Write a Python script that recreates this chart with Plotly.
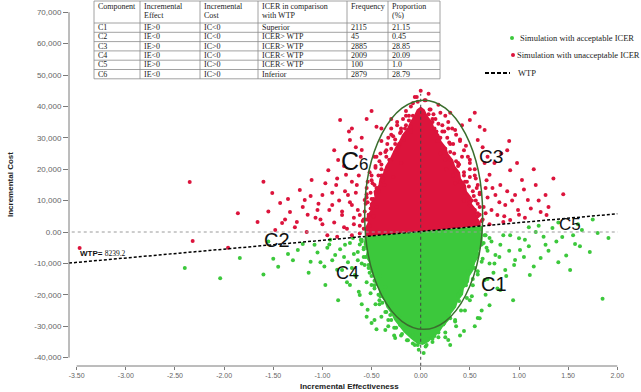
import plotly.graph_objects as go

# ---------------- data ----------------
components = ["C1", "C2", "C3", "C4", "C5", "C6"]
inc_effect = ["IE>0", "IE<0", "IE>0", "IE<0", "IE>0", "IE<0"]
inc_cost = ["IC<0", "IC<0", "IC>0", "IC<0", "IC>0", "IC>0"]
icer_vs_wtp = ["Superior", "ICER> WTP", "ICER> WTP", "ICER< WTP", "ICER< WTP", "Inferior"]
frequency = ["2115", "45", "2885", "2009", "100", "2879"]
proportion = ["21.15", "0.45", "28.85", "20.09", "1.0", "28.79"]

x_tickvals = [-3.5, -3.0, -2.5, -2.0, -1.5, -1.0, -0.5, 0.0, 0.5, 1.0, 1.5, 2.0]
x_ticktext = ["-3.50", "-3.00", "-2.50", "-2.00", "-1.50", "-1.00", "-0.50", "0.00", "0.50", "1.00", "1.50", "2.00"]
y_tickvals = [-40000, -30000, -20000, -10000, 0, 10000, 20000, 30000, 40000, 50000, 60000, 70000]
y_ticktext = ["-40,000", "-30,000", "-20,000", "-10,000", "0.00", "10,000", "20,000", "30,000",
              "40,000", "50,000", "60,000", "70,000"]

# WTP threshold line (as drawn)
wtp_x = [-3.578, 2.0]
wtp_y = [-9900, 5800]

# dense cores of simulations (solid areas)
red_core_x = [-0.56, -0.57, -0.54, -0.55, -0.51, -0.52, -0.47, -0.48, -0.43, -0.42, -0.38, -0.36, -0.32, -0.29,
              -0.26, -0.22, -0.19, -0.14, -0.11, -0.07, -0.04, 0.00, 0.04, 0.07, 0.12, 0.14, 0.19, 0.21, 0.26,
              0.28, 0.33, 0.35, 0.40, 0.41, 0.46, 0.47, 0.52, 0.52, 0.57, 0.57, 0.61, 0.61]
red_core_y = [-1450, 1000, 3000, 5000, 7000, 9000, 11000, 13000, 15000, 17000, 19000, 21000, 23000, 25000,
              27000, 29000, 31000, 33000, 35000, 37000, 39000, 40000, 39000, 37000, 35000, 33000, 31000, 29000,
              27000, 25000, 23000, 21000, 19000, 17000, 15000, 13000, 11000, 9000, 7000, 5000, 3000, 1900]
green_core_x = [-0.57, -0.58, -0.55, -0.56, -0.52, -0.52, -0.48, -0.47, -0.43, -0.42, -0.37, -0.35, -0.30, -0.27,
                -0.22, -0.17, -0.10, -0.04, 0.02, 0.08, 0.13, 0.19, 0.23, 0.29, 0.31, 0.36, 0.38, 0.43, 0.44,
                0.49, 0.50, 0.54, 0.55, 0.59, 0.59, 0.63, 0.63, 0.63]
green_core_y = [-1430, -4000, -6000, -8000, -10000, -12000, -14000, -16000, -18000, -20000, -22000, -24000,
                -26000, -28000, -30000, -32000, -34000, -35500, -36000, -35000, -33500, -32000, -30000, -28000,
                -26000, -24000, -22000, -20000, -18000, -16000, -14000, -12000, -10000, -8000, -6000, -4000,
                -1500, 1940]

# individual simulations with unacceptable ICER (x, cost)
red_points = [
    (-3.47, -5100), (-2.35, 15900), (-2.32, -2900), (-1.96, -5000), (-1.86, 6000), (-1.66, 3200), (-1.51, 12400),
    (-1.48, 600), (-1.43, 9200), (-1.41, 2900), (-1.33, 6400), (-1.26, 3200), (-1.23, 13400), (-1.18, 10200),
    (-1.16, 0), (-1.11, 16600), (-1.05, 7000), (-1.00, 11800), (-0.94, 19700), (-0.90, 8600), (-0.86, 15000),
    (-0.84, 22900), (-0.80, 5400), (-0.76, 18200), (-0.74, 11800), (-0.72, 29300), (-0.70, 8600), (-0.65, 15000),
    (-0.62, 5400), (-0.60, 26100), (-0.57, 10200), (-0.82, 35700), (-0.95, -1000), (-0.78, 1500), (-0.68, 2500),
    (-0.88, 26000), (-1.02, 4000), (-0.73, 32000),
    (-0.62, 2000), (-0.64, 7000), (-0.66, 12500), (-0.63, 18000), (-0.61, 24000), (-0.60, 30000), (-0.68, 4500),
    (-0.70, 16000), (-0.72, 9500), (-0.75, 1000), (-0.77, 13000), (-0.78, 21000), (-0.80, 6500), (-0.83, 10000),
    (-0.85, 17000), (-0.88, 3000), (-0.90, 12500), (-0.93, 7000), (-0.97, 15500), (-1.00, 2500), (-1.04, 9000),
    (-1.07, 4500), (-1.12, 11500), (-1.15, 5500), (-1.20, 8000), (-1.28, 1500), (-1.35, 10500), (-1.38, 4000),
    (-1.55, 6500), (-1.60, 16000), (-0.66, 27000), (-0.70, 33000), (-0.55, 36000), (-0.50, 38500),
    (-0.45, 33500), (-0.62, -500), (-0.70, -1000), (-0.85, -1500),
    (0.50, 35700), (0.58, 29300), (0.65, 32500), (0.70, 18200), (0.76, 11800), (0.81, 15000), (0.86, 8600),
    (0.91, 19700), (0.96, 11800), (0.99, 7000), (1.03, 16600), (1.09, 10200), (1.17, 15000), (1.22, 6400),
    (1.27, 11800), (0.72, 7000), (0.78, 5400), (0.84, 3200), (0.91, 3800), (1.06, 4500), (1.28, 5400),
    (0.68, 24000), (0.88, 26000), (0.75, 22000),
    (0.66, 6000), (0.68, 11000), (0.67, 16500), (0.65, 22000), (0.63, 27000), (0.60, 33500), (0.55, 38000),
    (0.70, 2500), (0.73, 14000), (0.80, 9500), (0.82, 25000), (0.85, 5000), (0.88, 13000), (0.90, 29000),
    (0.93, 10000), (0.98, 22000), (1.00, 5500), (1.05, 13500), (1.12, 7500), (1.15, 20000), (1.20, 10000),
    (1.30, 8000), (1.35, 17000), (1.45, 12000),
    (-0.06, 43000), (0.04, 42000), (0.10, 39000), (-0.10, 40000), (0.00, 45000), (-0.15, 38500), (0.18, 40500),
    (0.30, 38000), (-0.30, 36000), (-0.40, 33000), (0.42, 34000), (0.08, 44000), (-0.03, 41500),
    (-0.12, 37000), (-0.08, 41000), (-0.04, 43000), (0.05, 42000), (0.09, 39000), (0.13, 37500), (-0.18, 36000),
    (0.20, 38000), (-0.30, 33000), (-0.24, 35000), (-0.20, 32000), (-0.15, 34000), (-0.10, 33500), (0.12, 35000),
    (0.16, 32000), (0.22, 34000), (0.28, 33000), (0.35, 32500), (-0.40, 29000), (-0.34, 28000), (-0.28, 30500),
    (-0.22, 27500), (-0.17, 29500), (0.17, 29000), (0.22, 27000), (0.27, 30000), (0.33, 28000), (0.40, 29500),
    (0.46, 27500), (-0.47, 24000), (-0.42, 22500), (-0.36, 25500), (-0.30, 23000), (-0.24, 25000),
    (-0.20, 22000), (0.20, 25000), (0.25, 23000), (0.30, 25500), (0.36, 22500), (0.42, 24000), (0.50, 23000),
    (-0.52, 19000), (-0.46, 20500), (-0.40, 18000), (-0.34, 20000), (-0.28, 17500), (0.26, 20000),
    (0.33, 18000), (0.38, 21000), (0.44, 19000), (0.50, 17500), (0.55, 20000), (-0.55, 14000), (-0.49, 15500),
    (-0.43, 13000), (-0.37, 15000), (0.35, 15500), (0.42, 13500), (0.47, 16000), (0.53, 13000), (0.58, 15000),
    (-0.56, 9000), (-0.50, 10500), (-0.45, 8000), (0.44, 10000), (0.50, 8500), (0.56, 10000), (0.60, 8000),
    (-0.57, 4000), (-0.53, 5500), (0.58, 5000), (0.62, 3500),
    (-0.45, 14000), (-0.40, 20000), (-0.35, 26000), (-0.30, 31000), (-0.52, 2000),
    (-0.48, 5000), (-0.38, 17000), (-0.32, 23000), (-0.26, 28000), (-0.20, 33000),
    (-0.15, 37000), (-0.55, 12000), (-0.50, 18000), (-0.45, 24000), (0.15, 36000), (0.22, 32000),
    (0.30, 28000), (0.38, 22000), (0.45, 16000), (0.52, 10000), (0.58, 6000), (0.60, 12000), (0.55, 18000),
    (0.48, 24000), (0.40, 29000), (0.32, 33000), (0.25, 37000), (0.50, 20000), (0.57, 14000),
    (-0.58, 4000), (-0.54, 16000), (0.64, 8000), (0.66, 14000),
    (-0.08, 37000), (-0.12, 35500), (-0.10, 32000), (-0.16, 33000), (-0.17, 30000), (-0.21, 31500),
    (-0.22, 28000), (-0.26, 29500), (-0.26, 25500), (-0.30, 26500), (-0.31, 22500), (-0.35, 24000),
    (-0.36, 19500), (-0.40, 21500), (-0.39, 16500), (-0.43, 18000), (-0.44, 13500), (-0.47, 15000),
    (-0.48, 10500), (-0.51, 12500), (-0.51, 7500), (-0.54, 9500), (-0.55, 4000), (-0.57, 6500), (-0.58, 1000),
    (-0.24, 34000), (-0.33, 30000), (-0.41, 25000), (-0.46, 21000), (-0.50, 16500), (-0.55, 11000),
    (-0.59, 3500),
    (0.08, 37500), (0.12, 36000), (0.14, 33000), (0.18, 34500), (0.20, 30000), (0.24, 32000), (0.25, 26500),
    (0.29, 28500), (0.30, 23000), (0.34, 25000), (0.35, 19500), (0.39, 21500), (0.40, 16000), (0.44, 18000),
    (0.45, 12500), (0.49, 14500), (0.50, 9500), (0.54, 11500), (0.55, 7000), (0.58, 9000), (0.60, 5500),
    (0.63, 4000), (0.28, 35000), (0.36, 31000), (0.44, 26000), (0.50, 22000), (0.56, 17000), (0.60, 12500),
]

# individual simulations with acceptable ICER (x, cost)
green_points = [
    (-2.40, -11500), (-2.04, -14700), (-1.84, -8300), (-1.45, -11100), (-1.25, -5700), (-1.14, -13000),
    (-1.08, -4100), (-1.02, -9600), (-0.97, -16900), (-0.92, -2500), (-0.87, -7300), (-0.84, -21700),
    (-0.80, -12100), (-0.77, -4100), (-0.74, -9600), (-0.72, -16900), (-0.69, -1900), (-0.67, -13700),
    (-0.64, -6400), (-0.62, -20100), (-0.60, -2500), (-0.57, -10500), (-0.54, -24800), (-0.50, -16900),
    (-0.47, -28000), (-0.42, -21700), (-0.36, -31200), (-0.31, -26400), (-0.26, -33800), (-0.21, -29600),
    (-0.08, -32800), (-0.03, -36000), (0.07, -34100), (0.14, -33100), (-1.55, -3000), (-1.30, -9000),
    (-0.95, -5000),
    (0.70, -1900), (0.76, -7300), (0.81, -4100), (0.86, -12100), (0.91, -1000), (0.96, -8900), (1.01, -5700),
    (1.06, -2500), (1.11, -13700), (1.17, 0), (1.22, -8300), (1.27, -4100), (1.34, 1300), (1.40, -9600),
    (1.44, -1600), (1.52, -12100), (1.57, -3800), (1.64, 600), (1.72, -6400), (1.80, -300), (1.85, -21300),
    (1.91, -1900), (0.94, -21700), (0.81, -18500), (0.70, -23300), (0.65, -15300), (0.58, -27400),
    (0.50, -21700), (0.44, -31500), (0.35, -28000), (0.28, -34400), (0.75, -10000), (0.68, -6000),
    (-0.60, -3000), (-0.58, -5500), (0.64, -3500), (0.66, -1000), (-0.58, -8000), (-0.53, -10500),
    (0.57, -7500), (0.62, -9500), (-0.50, -11000), (0.55, -11500), (-0.52, -13000), (-0.47, -15500),
    (-0.42, -14000), (0.48, -12500), (0.53, -15000), (0.58, -13500), (-0.47, -18000), (-0.41, -20500),
    (-0.36, -17500), (0.40, -19000), (0.46, -17000), (0.52, -20500), (-0.42, -23000), (-0.36, -25500),
    (-0.30, -22500), (0.33, -24000), (0.39, -22000), (0.45, -25000), (-0.33, -28000), (-0.27, -30500),
    (-0.22, -27000), (0.24, -29000), (0.30, -27500), (0.36, -30000), (-0.20, -33000), (-0.14, -34500),
    (-0.08, -35500), (0.05, -36500), (0.12, -35000), (0.18, -33500), (0.25, -32000), (-0.02, -37500),
    (0.03, -38500),
    (-0.62, -4000), (-0.64, -9000), (-0.66, -14000), (-0.63, -19000), (-0.60, -23000), (-0.68, -7000),
    (-0.70, -11500), (-0.72, -3500), (-0.75, -16000), (-0.78, -8000), (-0.82, -5500), (-0.85, -12000),
    (-0.90, -9000), (-0.93, -4000), (-0.98, -11000), (-1.05, -6500), (-1.12, -9500), (-1.20, -3800),
    (-1.35, -7000), (-1.50, -8500), (-1.60, -13500), (-0.55, -27000), (-0.45, -31000), (-0.50, -29000),
    (0.67, -5000), (0.70, -10000), (0.68, -15000), (0.66, -20000), (0.62, -25000), (0.72, -3000),
    (0.74, -13000), (0.78, -18000), (0.80, -8000), (0.84, -1000), (0.87, -14000), (0.90, -6000),
    (0.95, -10500), (1.00, -2000), (1.05, -8000), (1.10, -4500), (1.15, -11000), (1.25, -1500), (1.30, -6000),
    (1.38, -3000), (1.48, -7500), (1.55, -1000), (1.62, -4500), (0.55, -30000), (0.60, -27500), (0.40, -33000),
    (0.30, -36000), (1.20, 2000), (1.40, 3000), (1.60, 2500), (1.75, 4000), (1.10, 1500),
    (-0.58, -5000), (-0.56, -8000), (-0.53, -11500), (-0.50, -14000), (-0.47, -17000), (-0.43, -20000),
    (-0.39, -22500), (-0.35, -25500), (-0.30, -28000), (-0.25, -30500), (-0.19, -32500), (-0.13, -34500),
    (-0.06, -36000), (-0.61, -2500), (-0.60, -10000), (-0.55, -16000), (-0.51, -19500), (-0.46, -23000),
    (-0.40, -27000), (-0.33, -30000), (-0.27, -33000),
    (0.06, -36000), (0.12, -34000), (0.18, -32000), (0.23, -29500), (0.28, -26500), (0.33, -23500),
    (0.38, -20000), (0.43, -16500), (0.48, -13000), (0.53, -10000), (0.58, -7000), (0.62, -4000),
    (0.65, -1000), (0.35, -28500), (0.41, -25000), (0.47, -21000), (0.53, -17000), (0.58, -12500),
    (0.63, -8500), (0.25, -33500),
]

red_x = [p[0] for p in red_points]
red_y = [p[1] for p in red_points]
green_x = [p[0] for p in green_points]
green_y = [p[1] for p in green_points]

# ---------------- styling ----------------
RED = "#dc143c"
GREEN = "#3cc83c"
L, R, T, B = 69, 23, 12, 26
W, H = 641, 392
PW, PH = W - L - R, H - T - B


def px_x(px):
    return (px - L) / PW


def px_y(py):
    return (H - B - py) / PH


def esc(s):
    return s.replace("<", "&lt;").replace(">", "&gt;")


fig = go.Figure()

fig.add_trace(go.Scatter(x=red_core_x, y=red_core_y, fill="toself", fillcolor=RED, mode="lines",
                         line=dict(width=0, color=RED), showlegend=False, hoverinfo="skip"))
fig.add_trace(go.Scatter(x=green_core_x, y=green_core_y, fill="toself", fillcolor=GREEN, mode="lines",
                         line=dict(width=0, color=GREEN), showlegend=False, hoverinfo="skip"))
fig.add_trace(go.Scatter(x=green_x, y=green_y, mode="markers", name="Simulation with acceptable ICER",
                         marker=dict(color=GREEN, size=4), showlegend=False))
fig.add_trace(go.Scatter(x=red_x, y=red_y, mode="markers", name="Simulation with unacceptable ICER",
                         marker=dict(color=RED, size=4), showlegend=False))
fig.add_trace(go.Scatter(x=wtp_x, y=wtp_y, mode="lines", name="WTP",
                         line=dict(color="black", width=1.5, dash="3px,2px"), showlegend=False))

shapes = []
# axis lines
shapes.append(dict(type="line", xref="paper", yref="y", x0=0, x1=0, y0=-40000, y1=70000,
                   line=dict(color="#7a7a7a", width=1)))
shapes.append(dict(type="line", xref="x", yref="paper", x0=-3.5, x1=2.0, y0=0, y1=0,
                   line=dict(color="#7a7a7a", width=1)))
# zero reference lines
shapes.append(dict(type="line", xref="paper", yref="y", x0=0.005, x1=1, y0=0, y1=0,
                   line=dict(color="#9a9a9a", width=1, dash="3px,3px")))
shapes.append(dict(type="line", xref="x", yref="y", x0=0, x1=0, y0=-42600, y1=44000,
                   line=dict(color="#444444", width=1, dash="3px,3px")))
# confidence ellipse
shapes.append(dict(type="circle", xref="x", yref="y", x0=-0.57, x1=0.63, y0=-31000, y1=42000,
                   line=dict(color="#3a6e2e", width=1.5)))

# table
col_px = [94, 140, 200, 258, 347, 388, 440]
row_px = [1, 23, 32.3, 41.6, 50.9, 60.2, 69.5, 78.8]
shapes.append(dict(type="rect", xref="paper", yref="paper", x0=px_x(col_px[0]), x1=px_x(col_px[-1]),
                   y0=px_y(row_px[-1]), y1=px_y(row_px[0]), fillcolor="white",
                   line=dict(color="#8a8a8a", width=0.8)))
for c in col_px[1:-1]:
    shapes.append(dict(type="line", xref="paper", yref="paper", x0=px_x(c), x1=px_x(c),
                       y0=px_y(row_px[-1]), y1=px_y(row_px[0]), line=dict(color="#8a8a8a", width=0.8)))
for r in row_px[1:-1]:
    shapes.append(dict(type="line", xref="paper", yref="paper", x0=px_x(col_px[0]), x1=px_x(col_px[-1]),
                       y0=px_y(r), y1=px_y(r), line=dict(color="#8a8a8a", width=0.8)))

# legend symbols
shapes.append(dict(type="circle", xref="paper", yref="paper", xsizemode="pixel", ysizemode="pixel",
                   xanchor=px_x(512), yanchor=px_y(38), x0=-2, x1=2, y0=-2, y1=2,
                   fillcolor=GREEN, line=dict(width=0)))
shapes.append(dict(type="circle", xref="paper", yref="paper", xsizemode="pixel", ysizemode="pixel",
                   xanchor=px_x(513), yanchor=px_y(55), x0=-2, x1=2, y0=-2, y1=2,
                   fillcolor=RED, line=dict(width=0)))
shapes.append(dict(type="line", xref="paper", yref="paper", x0=px_x(485), x1=px_x(510),
                   y0=px_y(73), y1=px_y(73), line=dict(color="black", width=2, dash="4px,2px")))

annotations = []
tfont = dict(family="Liberation Serif", size=8, color="#222222")


def cell(text, cidx, py):
    annotations.append(dict(text=esc(text), xref="paper", yref="paper", x=px_x(col_px[cidx] + 2), y=px_y(py),
                            xanchor="left", yanchor="middle", showarrow=False, font=tfont))


headers = [["Component"], ["Incremental", "Effect"], ["Incremental", "Cost"],
           ["ICER in comparison", "with WTP"], ["Frequency"], ["Proportion", "(%)"]]
for ci, h in enumerate(headers):
    for li, t in enumerate(h):
        cell(t, ci, 6.5 + li * 9.3)
cols = [components, inc_effect, inc_cost, icer_vs_wtp, frequency, proportion]
for ri in range(6):
    yc = (row_px[ri + 1] + row_px[ri + 2]) / 2
    for ci, col in enumerate(cols):
        cell(col[ri], ci, yc)

# legend texts
lfont = dict(family="Liberation Serif", size=8.5, color="#222222")
for txt, xx, yy in [("Simulation with acceptable ICER", 518, 38),
                    ("Simulation with unacceptable ICER", 515, 55),
                    ("WTP", 516, 73)]:
    annotations.append(dict(text=txt, xref="paper", yref="paper", x=px_x(xx), y=px_y(yy),
                            xanchor="left", yanchor="middle", showarrow=False, font=lfont))

# quadrant labels
for txt, xx, yy, sz in [("C<span style='font-size:17px'>6</span>", -0.67, 22700, 25),
                        ("C3", 0.72, 24000, 19), ("C5", 1.52, 2400, 17),
                        ("C2", -1.46, -2600, 20), ("C4", -0.74, -13000, 18),
                        ("C1", 0.75, -16700, 20)]:
    annotations.append(dict(text=txt, x=xx, y=yy, xref="x", yref="y", showarrow=False,
                            font=dict(family="Liberation Sans", size=sz, color="#111111")))

annotations.append(dict(text="<b>WTP=</b> <span style='font-family:Liberation Serif;font-size:7.5px'>8239.2</span>",
                        x=-3.49, y=-7000, xref="x", yref="y", xanchor="left", yanchor="middle",
                        showarrow=False, font=dict(family="Liberation Sans", size=8, color="#111111")))

# axis titles
annotations.append(dict(text="<b>Incremental Effectiveness</b>", xref="paper", yref="paper",
                        x=px_x(349), y=px_y(386), xanchor="center", yanchor="middle", showarrow=False,
                        font=dict(family="Liberation Sans", size=8, color="#222222")))
annotations.append(dict(text="<b>Incremental Cost</b>", xref="paper", yref="paper",
                        x=px_x(10), y=px_y(185), xanchor="center", yanchor="middle", showarrow=False,
                        textangle=-90, font=dict(family="Liberation Sans", size=8, color="#222222")))

fig.update_layout(
    width=W, height=H, margin=dict(l=L, r=R, t=T, b=B, autoexpand=False),
    plot_bgcolor="white", paper_bgcolor="white", showlegend=False,
    shapes=shapes, annotations=annotations,
    xaxis=dict(range=[-3.578, 2.007], tickvals=x_tickvals, ticktext=x_ticktext, showgrid=False,
               zeroline=False, showline=False, ticks="outside", ticklen=3, tickcolor="#7a7a7a",
               tickfont=dict(family="Liberation Sans", size=7, color="#666666")),
    yaxis=dict(range=[-42680, 70070], tickvals=y_tickvals, ticktext=y_ticktext, showgrid=False,
               zeroline=False, showline=False, ticks="outside", ticklen=5, tickcolor="#7a7a7a",
               tickfont=dict(family="Liberation Sans", size=8, color="#666666")),
)

fig.write_html("out.html", config={"displayModeBar": False},
               post_script="document.body.style.margin='0px';")
